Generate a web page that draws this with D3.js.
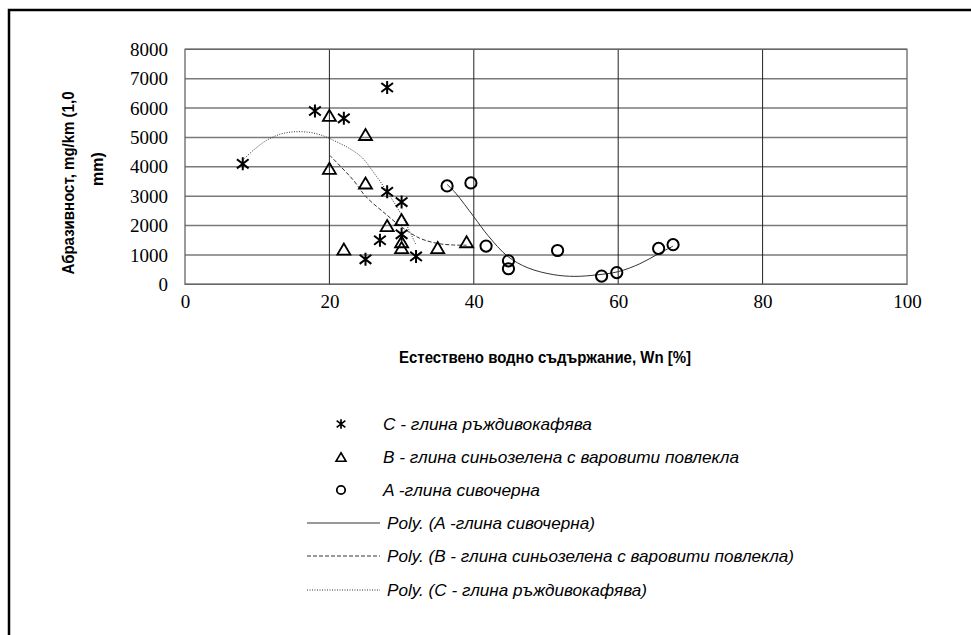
<!DOCTYPE html>
<html><head><meta charset="utf-8">
<script src="https://cdn.jsdelivr.net/npm/d3@7"></script>
<style>
body{margin:0;background:#fff;}
svg{display:block;}
.ttl{font-family:"Liberation Sans Narrow","Arial Narrow","Liberation Sans",Arial,sans-serif;font-weight:bold;font-size:16px;fill:#000;}
.leg{font-family:"Liberation Sans Narrow","Arial Narrow","Liberation Sans",Arial,sans-serif;font-style:italic;font-size:17px;fill:#000;}
</style></head>
<body>
<svg id="chart" width="971" height="635"></svg>
<script>
// ---- data ----
const xTicks = [0, 20, 40, 60, 80, 100];
const yTicks = [0, 1000, 2000, 3000, 4000, 5000, 6000, 7000, 8000];

// A - глина сивочерна (circles)
const seriesA = [[36.3,3350],[39.6,3450],[41.7,1300],[44.8,800],[44.8,530],[51.6,1150],[57.7,280],[59.8,400],[65.6,1220],[67.6,1350]];
// B - глина синьозелена с варовити повлекла (triangles)
const seriesB = [[20,5750],[20,3950],[22,1200],[25,5100],[25,3450],[28,2000],[30,2200],[30,1450],[30,1250],[35,1250],[39,1450]];
// C - глина ръждивокафява (asterisks)
const seriesC = [[8,4100],[18,5900],[22,5650],[25,850],[27,1500],[28,6700],[28,3150],[30,2800],[30,1700],[32,950]];

// polynomial trendlines
const trendA = [[36.3,3400],[37.5,3100],[40,2300],[42,1650],[44.7,950],[47.5,560],[51,330],[54,270],[57,320],[60,430],[63,700],[65.5,1030],[67.6,1300]];
const trendB = [[20,4400],[23.3,3550],[25,3000],[28,2350],[30,1950],[32.5,1570],[35,1390],[37,1340],[39,1330]];
const trendC = [[8,4230],[9.5,4570],[11.3,4900],[13.2,5110],[15,5190],[17.3,5170],[19.2,5050],[21,4850],[22.8,4620],[24.5,4320],[26,3850],[28,3150],[30,2350],[32,1340]];

const xTitle = "Естествено водно съдържание, Wn [%]";
const yTitle1 = "Абразивност, mg/km (1,0";
const yTitle2 = "mm)";
const legendLabels = [
  "C - глина ръждивокафява",
  "B - глина синьозелена с варовити повлекла",
  "A -глина сивочерна",
  "Poly. (A -глина сивочерна)",
  "Poly. (B - глина синьозелена с варовити повлекла)",
  "Poly. (C - глина ръждивокафява)"
];

// ---- drawing ----
const svg = d3.select("#chart");
const L = 185, R = 907, T = 49.3, B = 284.3;
const x = d3.scaleLinear().domain([0,100]).range([L,R]);
const y = d3.scaleLinear().domain([0,8000]).range([B,T]);

// outer frame (only top/left visible)
svg.append("rect").attr("x",9).attr("y",10).attr("width",1000).attr("height",700)
  .attr("fill","none").attr("stroke","#000").attr("stroke-width",2.5);

// horizontal gridlines
svg.append("g").selectAll("line").data(yTicks).join("line")
  .attr("x1",L).attr("x2",R).attr("y1",d=>y(d)).attr("y2",d=>y(d))
  .attr("stroke","#7a7a7a").attr("stroke-width",1.5);
// vertical gridlines
svg.append("g").selectAll("line").data(xTicks.slice(1,-1)).join("line")
  .attr("y1",T).attr("y2",B).attr("x1",d=>x(d)).attr("x2",d=>x(d))
  .attr("stroke","#222").attr("stroke-width",1);
// plot border
svg.append("rect").attr("x",L).attr("y",T).attr("width",R-L).attr("height",B-T)
  .attr("fill","none").attr("stroke","#666").attr("stroke-width",1.3);

// axes labels via d3 axes (domain/ticks hidden)
const yAxis = svg.append("g").attr("transform",`translate(${L},0)`)
  .call(d3.axisLeft(y).tickValues(yTicks).tickSize(0).tickPadding(17).tickFormat(d3.format("d")));
const xAxis = svg.append("g").attr("transform",`translate(0,${B})`)
  .call(d3.axisBottom(x).tickValues(xTicks).tickSize(0).tickPadding(10).tickFormat(d3.format("d")));
[yAxis,xAxis].forEach(a=>{
  a.select(".domain").remove();
  a.attr("font-family","Liberation Serif, Times New Roman, serif").attr("font-size",19);
  a.selectAll("text").attr("fill","#000")
    .style("font-family","'Liberation Serif','Times New Roman',serif").style("font-size","19px");
});

// titles
svg.append("text").attr("class","ttl").attr("x",545).attr("y",357).attr("text-anchor","middle")
  .attr("dominant-baseline","central").attr("textLength",292).attr("lengthAdjust","spacingAndGlyphs").text(xTitle);
svg.append("text").attr("class","ttl").attr("transform","translate(68,183) rotate(-90)")
  .attr("text-anchor","middle").attr("dominant-baseline","central")
  .attr("textLength",183).attr("lengthAdjust","spacingAndGlyphs").text(yTitle1);
svg.append("text").attr("class","ttl").attr("transform","translate(97,169) rotate(-90)")
  .attr("text-anchor","middle").attr("dominant-baseline","central").text(yTitle2);

// trend lines
const line = d3.line().x(d=>x(d[0])).y(d=>y(d[1])).curve(d3.curveCatmullRom.alpha(0.5));
svg.append("path").attr("d",line(trendA)).attr("fill","none").attr("stroke","#333").attr("stroke-width",1);
svg.append("path").attr("d",line(trendB)).attr("fill","none").attr("stroke","#333").attr("stroke-width",1).attr("stroke-dasharray","4,2");
svg.append("path").attr("d",line(trendC)).attr("fill","none").attr("stroke","#333").attr("stroke-width",1).attr("stroke-dasharray","1,1.5");

// marker shapes
function star(s){const h=s, w=s*0.9, v=s*0.7;
  return `M0,${-h}L0,${h}M${-w},${-v}L${w},${v}M${-w},${v}L${w},${-v}`;}
function tri(s){return `M0,${-s*0.85}L${s},${s*0.85}L${-s},${s*0.85}Z`;}

const gm = svg.append("g");
gm.selectAll("path.c").data(seriesC).join("path").attr("class","c")
  .attr("transform",d=>`translate(${x(d[0])},${y(d[1])})`).attr("d",star(6.5))
  .attr("fill","none").attr("stroke","#000").attr("stroke-width",2);
gm.selectAll("path.b").data(seriesB).join("path").attr("class","b")
  .attr("transform",d=>`translate(${x(d[0])},${y(d[1])})`).attr("d",tri(6.5))
  .attr("fill","none").attr("stroke","#000").attr("stroke-width",1.8);
gm.selectAll("circle.a").data(seriesA).join("circle").attr("class","a")
  .attr("cx",d=>x(d[0])).attr("cy",d=>y(d[1])).attr("r",5.6)
  .attr("fill","none").attr("stroke","#000").attr("stroke-width",2);

// legend
const legY = [424, 457, 490, 523, 556, 590];
const legW = [209, 356, 157, 208, 407, 260];
const lg = svg.append("g");
lg.append("path").attr("transform",`translate(341,${legY[0]})`).attr("d",star(4.8))
  .attr("fill","none").attr("stroke","#000").attr("stroke-width",1.7);
lg.append("path").attr("transform",`translate(341,${legY[1]})`).attr("d",tri(5))
  .attr("fill","none").attr("stroke","#000").attr("stroke-width",1.6);
lg.append("circle").attr("cx",341).attr("cy",legY[2]).attr("r",4.2)
  .attr("fill","none").attr("stroke","#000").attr("stroke-width",1.8);
const dashes = [null,"4,2","1,1.5"];
[3,4,5].forEach((i,k)=>{
  lg.append("line").attr("x1",307).attr("x2",380).attr("y1",legY[i]).attr("y2",legY[i])
    .attr("stroke","#333").attr("stroke-width",1).attr("stroke-dasharray",dashes[k]);
});
legendLabels.forEach((t,i)=>{
  lg.append("text").attr("class","leg").attr("x",i<3?383:387).attr("y",legY[i])
    .attr("dominant-baseline","central").attr("textLength",legW[i])
    .attr("lengthAdjust","spacingAndGlyphs").text(t);
});
</script>
</body></html>
